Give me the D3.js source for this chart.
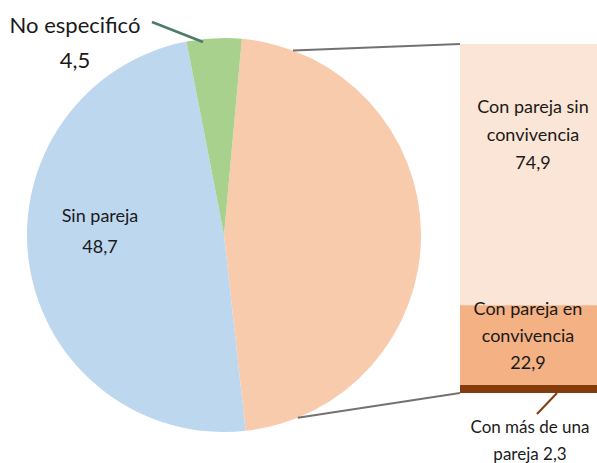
<!DOCTYPE html>
<html><head><meta charset="utf-8">
<script src="https://cdn.jsdelivr.net/npm/d3@7"></script>
<style>body{margin:0;background:#fff}svg{display:block}text{font-family:Lato,"Open Sans",sans-serif;fill:#1a1a1a}</style>
</head><body><svg id="c" width="597" height="463"></svg>
<script>
const pieCategories = ["Con pareja", "Sin pareja", "No especificó"];
const pieValues = [46.8, 48.7, 4.5];
const pieColors = ["#F8CBAD", "#BDD7EE", "#A9D18E"];

const barCategories = ["Con más de una pareja", "Con pareja en convivencia", "Con pareja sin convivencia"];
const barValues = [2.3, 22.9, 74.9];
const barColors = ["#843C0C", "#F4B183", "#FBE5D6"];

const svg = d3.select("#c");
const cx = 224, cy = 235, r = 197;
const start = 0.091;
const pie = d3.pie().sort(null).startAngle(start).endAngle(start + 2*Math.PI);
const arcs = pie(pieValues);
const arc = d3.arc().innerRadius(0).outerRadius(r);
const g = svg.append("g").attr("transform", `translate(${cx},${cy})`);
g.selectAll("path").data(arcs).join("path")
  .attr("d", arc).attr("fill", (d,i)=>pieColors[i]);

// bar
const bx0 = 460, bx1 = 600;
const total = d3.sum(barValues);
const y = d3.scaleLinear().domain([0, total]).range([393, 44]);
let acc = 0;
const stacks = barValues.map(v => { const s = {y0: acc, y1: acc + v}; acc += v; return s; });
svg.selectAll("rect.bar").data(stacks).join("rect")
  .attr("x", bx0).attr("width", bx1 - bx0)
  .attr("y", d => y(d.y1)).attr("height", d => y(d.y0) - y(d.y1))
  .attr("fill", (d,i)=>barColors[i]);

// connectors
const pt = a => [cx + r*Math.sin(a), cy - r*Math.cos(a)];
const aTop = 20.5*Math.PI/180, aBot = 158*Math.PI/180;
const pTop = pt(aTop), pBot = pt(aBot);
svg.append("line").attr("x1", pTop[0]).attr("y1", pTop[1]).attr("x2", bx0).attr("y2", y(total))
  .attr("stroke", "#767171").attr("stroke-width", 2);
svg.append("line").attr("x1", pBot[0]).attr("y1", pBot[1]).attr("x2", bx0).attr("y2", y(0))
  .attr("stroke", "#767171").attr("stroke-width", 2);

// labels
function label(lines, x, y0, dy, size) {
  const t = svg.append("text").attr("text-anchor", "middle").attr("font-size", size);
  lines.forEach((l, i) => t.append("tspan").attr("x", x).attr("y", y0 + i*dy).text(l));
}
const fmt = v => String(v).replace(".", ",");
label([pieCategories[2], fmt(pieValues[2])], 75, 33, 35, 22);
label([pieCategories[1], fmt(pieValues[1])], 100, 222, 31, 18);
label(["Con pareja sin", "convivencia", fmt(barValues[2])], 533, 113, 28, 18);
label(["Con pareja en", "convivencia", fmt(barValues[1])], 528, 315, 27, 18);
label(["Con más de una", "pareja " + fmt(barValues[0])], 530, 433, 27, 17);

svg.append("line").attr("x1", 152).attr("y1", 22).attr("x2", 203).attr("y2", 42)
  .attr("stroke", "#4E7A6A").attr("stroke-width", 2.5);
svg.append("line").attr("x1", 557).attr("y1", y(0)).attr("x2", 537).attr("y2", 414)
  .attr("stroke", "#843C0C").attr("stroke-width", 2);
</script></body></html>
